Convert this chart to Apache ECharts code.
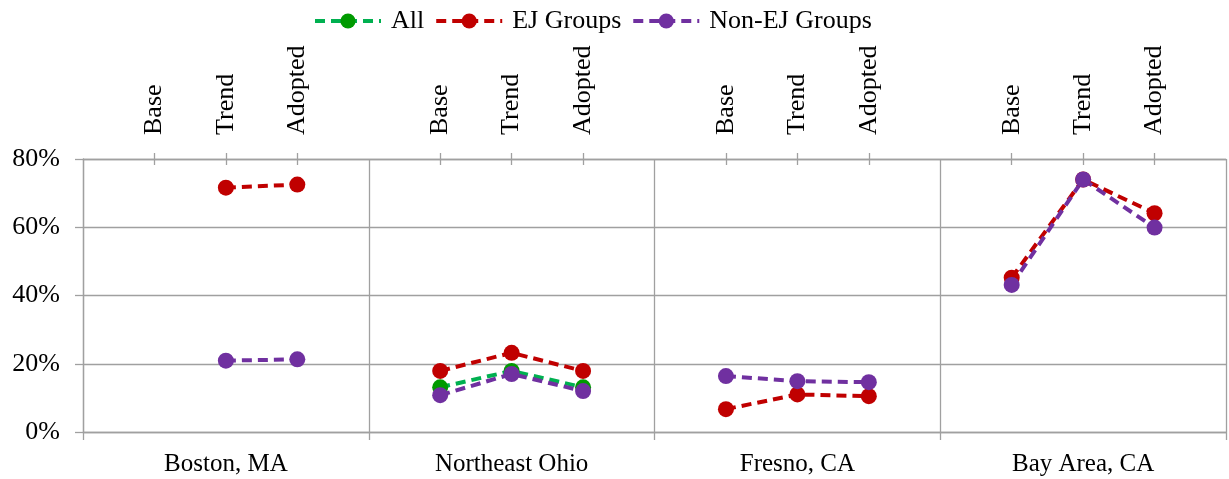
<!DOCTYPE html>
<html>
<head>
<meta charset="utf-8">
<script src="https://cdn.jsdelivr.net/npm/echarts@6/dist/echarts.min.js"></script>
<style>html,body{margin:0;padding:0;background:#fff}#c{width:1229px;height:479px}</style>
</head>
<body>
<div id="c"></div>
<script>
const regions = ['Boston, MA', 'Northeast Ohio', 'Fresno, CA', 'Bay Area, CA'];
const scenarios = ['Base', 'Trend', 'Adopted'];
// values in percent, 3 scenarios per region
const allGroups   = [null, null, null,  13.1, 17.9, 13.1,  null, null, null,  null, null, null];
const ejGroups    = [null, 71.6, 72.5,  17.9, 23.2, 17.9,  6.7, 11.0, 10.5,  45.2, 74.0, 64.1];
const nonEjGroups = [null, 20.9, 21.3,  10.8, 17.0, 12.0,  16.4, 14.9, 14.6,  43.1, 74.0, 59.9];
const yTicks = [0, 20, 40, 60, 80];

// top slot axis: blank separator, 3 scenarios, ... , blank
const slots = [];
regions.forEach(() => { slots.push(''); scenarios.forEach(s => slots.push(s)); });
slots.push('');
function toSlots(vals) {
  const out = [];
  regions.forEach((r, i) => { out.push(null); for (let k = 0; k < 3; k++) out.push(vals[i * 3 + k]); });
  out.push(null);
  return out;
}

const FONT = 'Liberation Serif';
const GRAY = '#a0a0a0';
const chart = echarts.init(document.getElementById('c'), null, {renderer: 'canvas'});

function mkSeries(name, vals, lineColor, markColor) {
  return {
    name, type: 'line', xAxisIndex: 1, data: toSlots(vals),
    connectNulls: false, symbol: 'circle', symbolSize: 16,
    itemStyle: {color: markColor},
    lineStyle: {color: lineColor, width: 4, type: [10, 6]},
    emphasis: {disabled: true}, animation: false
  };
}

chart.setOption({
  animation: false,
  legend: {
    top: 3, left: 308, itemWidth: 66, itemHeight: 19, itemGap: 10,
    lineStyle: {width: 4},
    textStyle: {fontFamily: FONT, fontSize: 26, color: '#000', padding: [0, 0, 0, 5]},
    data: ['All', 'EJ Groups', 'Non-EJ Groups']
  },
  grid: {left: 83, right: 3, top: 159, bottom: 47, containLabel: false},
  xAxis: [
    {
      type: 'category', data: regions, position: 'bottom', boundaryGap: true,
      axisLine: {show: true, lineStyle: {color: GRAY, width: 1.3}},
      axisTick: {show: true, length: 8, lineStyle: {color: GRAY, width: 1.3}},
      splitLine: {show: true, lineStyle: {color: GRAY, width: 1.3}},
      axisLabel: {fontFamily: FONT, fontSize: 25, color: '#000', margin: 20}
    },
    {
      type: 'category', data: slots, position: 'top', boundaryGap: false,
      axisLine: {show: true, lineStyle: {color: GRAY, width: 1.3}},
      axisTick: {show: true, length: 6, interval: (i, v) => v !== '', lineStyle: {color: GRAY, width: 1.3}},
      splitLine: {show: false},
      axisLabel: {interval: 0, rotate: -90, fontFamily: FONT, fontSize: 26, color: '#000', margin: 24}
    },
    {
      type: 'category', data: slots, position: 'top', boundaryGap: false,
      axisLine: {show: false},
      axisTick: {show: true, inside: true, length: 6, interval: (i, v) => v !== '', lineStyle: {color: GRAY, width: 1.3}},
      splitLine: {show: false},
      axisLabel: {show: false}
    }
  ],
  yAxis: {
    type: 'value', min: yTicks[0], max: yTicks[yTicks.length - 1], interval: 20,
    axisLine: {show: true, lineStyle: {color: GRAY, width: 1.3}},
    axisTick: {show: true, length: 8, lineStyle: {color: GRAY, width: 1.3}},
    splitLine: {show: true, lineStyle: {color: GRAY, width: 1.3}},
    axisLabel: {formatter: '{value}%', fontFamily: FONT, fontSize: 26, color: '#000', margin: 23}
  },
  series: [
    mkSeries('All', allGroups, '#00b050', '#009a00'),
    mkSeries('EJ Groups', ejGroups, '#c00000', '#c00000'),
    mkSeries('Non-EJ Groups', nonEjGroups, '#7030a0', '#7030a0')
  ]
});
</script>
</body>
</html>
